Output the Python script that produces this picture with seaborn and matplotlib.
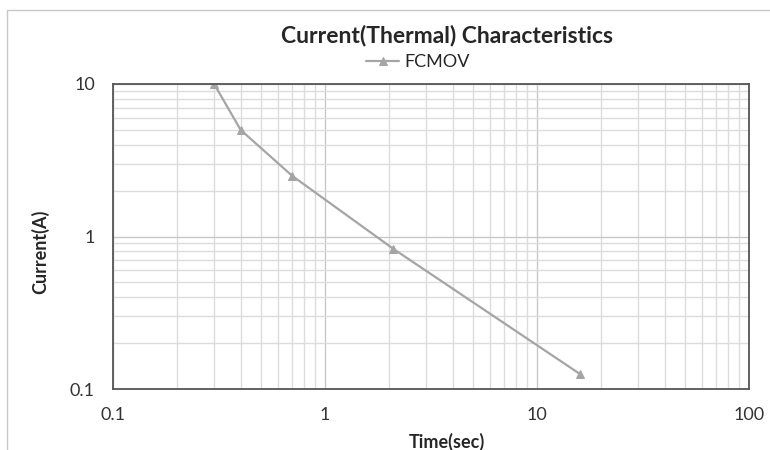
import numpy as np
import pandas as pd
import seaborn as sns
import matplotlib.pyplot as plt
from matplotlib.patches import Rectangle
from matplotlib.ticker import FixedLocator, LogLocator, NullFormatter

# values
time_sec = [0.3, 0.4, 0.7, 2.1, 16]
current_a = [10, 5, 2.5, 0.83, 0.125]
series_name = "FCMOV"
x_ticks = [0.1, 1, 10, 100]
y_ticks = [0.1, 1, 10]

df = pd.DataFrame({"Time(sec)": time_sec, "Current(A)": current_a})

sns.set_style("white")
plt.rcParams['font.family'] = ['Lato', 'DejaVu Sans']

fig = plt.figure(figsize=(7.7, 4.5), dpi=100)
ax = fig.add_axes([113 / 770, 1 - 389 / 450, 636 / 770, 305 / 450])

# outer chart-area frame
fig.patches.append(Rectangle((7 / 770, -0.1), 1.2, 1 - 10 / 450 + 0.1,
                             transform=fig.transFigure, fill=False,
                             edgecolor='#c8c8c8', linewidth=1))

sns.lineplot(data=df, x="Time(sec)", y="Current(A)", ax=ax,
             color='#a5a5a5', linewidth=1.6, marker='^', markersize=6,
             markeredgecolor='#a5a5a5', label=series_name)

ax.set_xscale('log')
ax.set_yscale('log')
ax.set_xlim(0.1, 100)
ax.set_ylim(0.1, 10)

ax.xaxis.set_major_locator(FixedLocator(x_ticks))
ax.yaxis.set_major_locator(FixedLocator(y_ticks))
ax.set_xticklabels([f"{t:g}" for t in x_ticks])
ax.set_yticklabels([f"{t:g}" for t in y_ticks])
ax.xaxis.set_minor_locator(LogLocator(base=10, subs=np.arange(2, 10)))
ax.yaxis.set_minor_locator(LogLocator(base=10, subs=np.arange(2, 10)))
ax.xaxis.set_minor_formatter(NullFormatter())
ax.yaxis.set_minor_formatter(NullFormatter())

ax.grid(which='major', color='#c8c8c8', linewidth=1)
ax.grid(which='minor', color='#dcdcdc', linewidth=1)
ax.set_axisbelow(True)
ax.tick_params(which='both', length=0, labelsize=13, colors='#333333')
ax.tick_params(axis='x', pad=13)
ax.tick_params(axis='y', pad=13)

for side in ['left', 'bottom', 'top', 'right']:
    ax.spines[side].set_visible(True)
    ax.spines[side].set_color('#555555')
    ax.spines[side].set_linewidth(1.3)

ax.set_xlabel("Time(sec)", fontsize=13, fontweight='bold')
ax.set_ylabel("Current(A)", fontsize=13, fontweight='bold')
ax.xaxis.set_label_coords((447 - 113) / 636, (389 - 433) / 305)
ax.yaxis.set_label_coords((49 - 113) / 636, (389 - 252) / 305)

fig.text(447 / 770, 1 - 36 / 450, "Current(Thermal) Characteristics",
         ha='center', va='center', fontsize=16.5, fontweight='bold')

ax.legend(loc='center', bbox_to_anchor=(418 / 770, 1 - 62 / 450),
          bbox_transform=fig.transFigure, frameon=False, fontsize=13,
          handlelength=1.8, handletextpad=0.3, borderpad=0)

fig.savefig('out.png', dpi=100)
